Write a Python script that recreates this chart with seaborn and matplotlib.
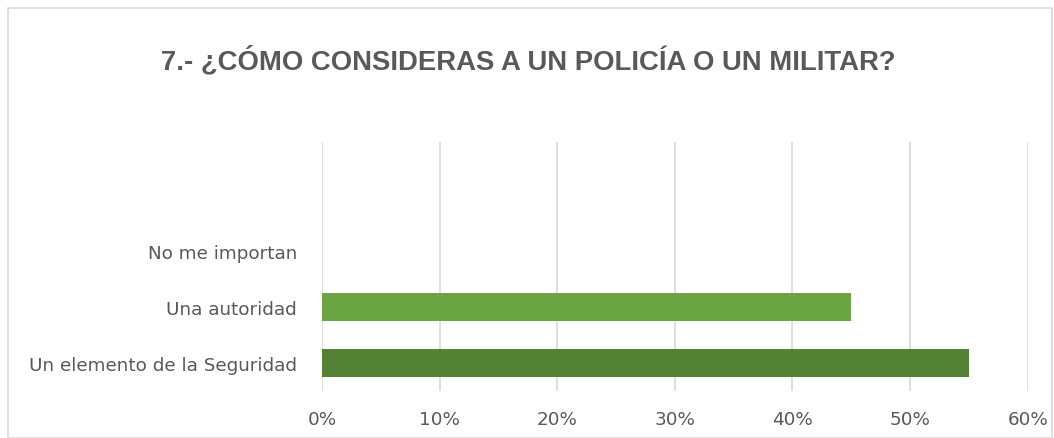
import matplotlib
matplotlib.use("Agg")
import matplotlib.pyplot as plt
from matplotlib.patches import Rectangle
from matplotlib.ticker import PercentFormatter, MultipleLocator
import seaborn as sns
import pandas as pd

# datos de la encuesta
categorias = ["No me importan", "Una autoridad", "Un elemento de la Seguridad"]
porcentajes = [0.0, 0.45, 0.55]
colores = ["#6AA443", "#6AA443", "#548235"]
titulo = "7.- ¿CÓMO CONSIDERAS A UN POLICÍA O UN MILITAR?"

df = pd.DataFrame({"categoria": categorias, "valor": porcentajes})

sns.set_style("white")
plt.rcParams["font.family"] = ["DejaVu Sans"]

fig = plt.figure(figsize=(10.54, 4.39), dpi=100)
ax = fig.add_axes([0.3055, 0.107, 0.6695, 0.567])

sns.barplot(data=df, x="valor", y="categoria", hue="categoria",
            palette=colores, order=categorias, orient="h",
            width=0.5, legend=False, ax=ax, saturation=1, linewidth=0)

ax.set_xlim(0, 0.6)
ax.set_ylim(2.5, -1.95)
ax.xaxis.set_major_locator(MultipleLocator(0.1))
ax.xaxis.set_major_formatter(PercentFormatter(1.0, decimals=0))
ax.grid(axis="x", color="#D9D9D9", linewidth=1.2)
ax.set_axisbelow(True)
for s in ax.spines.values():
    s.set_visible(False)
ax.set_xlabel("")
ax.set_ylabel("")
ax.tick_params(axis="both", length=0, labelsize=13.2, labelcolor="#595959")
ax.tick_params(axis="x", pad=14)
ax.tick_params(axis="y", pad=18)

fig.text(0.501, 0.862, titulo, ha="center", va="center", fontsize=19.8,
         fontweight="bold", color="#595959", family="Liberation Sans")

# marco del grafico
fig.patches.append(Rectangle((0.008, 0.0), 0.99, 0.98, transform=fig.transFigure,
                             fill=False, edgecolor="#D9D9D9", linewidth=1.2))

fig.savefig("out.png", dpi=100)
